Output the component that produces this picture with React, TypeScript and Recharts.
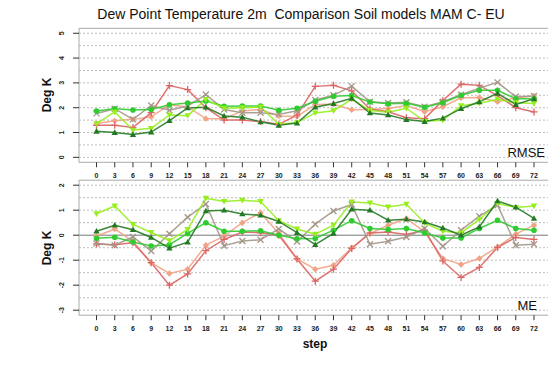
import { LineChart, Line, XAxis, YAxis, ReferenceLine } from 'recharts';

const steps = [0, 3, 6, 9, 12, 15, 18, 21, 24, 27, 30, 33, 36, 39, 42, 45, 48, 51, 54, 57, 60, 63, 66, 69, 72];

// RMSE panel
const rmseDarkGreen = [1.05, 1.0, 0.92, 1.02, 1.48, 1.99, 2.02, 1.67, 1.62, 1.43, 1.29, 1.38, 2.02, 2.17, 2.38, 1.79, 1.71, 1.52, 1.44, 1.58, 1.96, 2.24, 2.58, 2.13, 2.36];
const rmseGreen = [1.87, 1.96, 1.91, 1.93, 2.12, 2.19, 2.27, 2.06, 2.07, 2.07, 1.9, 1.98, 2.26, 2.46, 2.49, 2.23, 2.16, 2.18, 2.02, 2.2, 2.5, 2.7, 2.7, 2.36, 2.36];
const rmseLightGreen = [1.36, 1.83, 1.1, 1.17, 1.71, 1.68, 2.33, 1.98, 2.0, 2.03, 1.33, 1.4, 1.79, 1.88, 2.34, 1.89, 1.82, 1.98, 1.45, 1.49, 2.08, 2.18, 2.34, 2.2, 2.17];
const rmseGray = [1.77, 1.96, 1.53, 2.09, 1.9, 2.07, 2.53, 1.93, 1.8, 1.8, 1.73, 1.88, 2.31, 2.5, 2.87, 2.24, 2.19, 2.22, 2.04, 2.24, 2.52, 2.79, 3.02, 2.44, 2.47];
const rmseSalmon = [1.36, 1.47, 1.53, 1.63, 2.12, 2.03, 1.56, 1.55, 1.87, 1.93, 1.67, 1.65, 2.13, 2.14, 1.92, 1.93, 1.97, 2.09, 1.84, 2.04, 2.4, 2.41, 2.24, 2.4, 2.47];
const rmseRed = [1.29, 1.29, 1.2, 1.8, 2.89, 2.73, 2.0, 1.5, 1.5, 1.44, 1.33, 1.7, 2.86, 2.9, 2.68, 1.95, 1.84, 1.6, 1.56, 2.29, 2.95, 2.9, 2.49, 2.0, 1.83];

// ME panel
const meDarkGreen = [0.16, 0.4, 0.22, -0.09, -0.52, -0.28, 0.97, 1.0, 0.85, 0.8, 0.55, 0.1, -0.38, 0.07, 1.04, 1.0, 0.6, 0.64, 0.53, 0.29, 0.0, 0.33, 1.37, 1.12, 0.67];
const meGreen = [-0.12, -0.08, -0.27, -0.43, -0.38, 0.07, 0.5, 0.16, 0.16, 0.18, 0.0, -0.14, -0.13, 0.2, 0.58, 0.27, 0.23, 0.27, 0.09, -0.11, -0.11, 0.27, 0.6, 0.27, 0.2];
const meLightGreen = [0.86, 1.17, 0.43, 0.11, -0.22, 0.23, 1.48, 1.35, 1.4, 1.35, 0.58, 0.25, 0.04, 0.4, 1.33, 1.29, 1.13, 1.24, 0.49, 0.16, 0.09, 0.63, 1.27, 1.11, 1.17];
const meGray = [-0.33, -0.4, -0.07, -0.63, 0.06, 0.72, 1.25, -0.42, -0.23, -0.18, 0.25, -0.25, 0.44, 0.97, 1.23, -0.36, -0.24, -0.07, 0.27, -0.44, 0.2, 0.76, 1.2, -0.4, -0.36];
const meSalmon = [-0.04, 0.25, -0.25, -1.1, -1.53, -1.36, -0.4, -0.04, 0.5, 0.9, 0.07, -0.95, -1.36, -1.2, -0.5, 0.07, 0.4, 0.67, 0.13, -0.93, -1.17, -0.93, -0.47, 0.04, 0.4];
const meRed = [-0.35, -0.38, -0.3, -1.1, -2.0, -1.55, -0.62, -0.17, 0.13, 0.1, 0.0, -0.95, -1.84, -1.36, -0.53, 0.09, 0.13, 0.03, 0.2, -1.03, -1.69, -1.29, -0.49, -0.09, -0.17];

const rmseTicks = [0, 1, 2, 3, 4, 5];
const rmseGrid = [0, 0.5, 1, 1.5, 2, 2.5, 3, 3.5, 4, 4.5, 5];
const meTicks = [-3, -2, -1, 0, 1, 2];
const meGrid = [-3, -2.5, -2, -1.5, -1, -0.5, 0.5, 1, 1.5, 2];

const series = [
  { key: 'salmon', color: '#f2a386', shape: 'diamond' },
  { key: 'red', color: '#dc6464', shape: 'plus' },
  { key: 'gray', color: '#a49688', shape: 'cross' },
  { key: 'green', color: '#2fcc2f', shape: 'circle' },
  { key: 'lightGreen', color: '#96ee1e', shape: 'triDown' },
  { key: 'darkGreen', color: '#237a23', shape: 'triUp' },
];

const rmseData = steps.map((step, i) => ({
  step,
  darkGreen: rmseDarkGreen[i],
  green: rmseGreen[i],
  lightGreen: rmseLightGreen[i],
  gray: rmseGray[i],
  salmon: rmseSalmon[i],
  red: rmseRed[i],
}));

const meData = steps.map((step, i) => ({
  step,
  darkGreen: meDarkGreen[i],
  green: meGreen[i],
  lightGreen: meLightGreen[i],
  gray: meGray[i],
  salmon: meSalmon[i],
  red: meRed[i],
}));

const FONT = '"Liberation Sans", Arial, sans-serif';

function Marker({ cx, cy, shape, color }: any) {
  if (cx == null || cy == null) return null;
  const s = 3.2;
  switch (shape) {
    case 'triUp':
      return <polygon points={`${cx},${cy - s} ${cx - s},${cy + s * 0.75} ${cx + s},${cy + s * 0.75}`} fill={color} />;
    case 'triDown':
      return <polygon points={`${cx - s},${cy - s * 0.75} ${cx + s},${cy - s * 0.75} ${cx},${cy + s}`} fill={color} />;
    case 'circle':
      return <circle cx={cx} cy={cy} r={2.8} fill={color} />;
    case 'diamond':
      return <polygon points={`${cx},${cy - s} ${cx + s},${cy} ${cx},${cy + s} ${cx - s},${cy}`} fill={color} />;
    case 'cross':
      return (
        <g stroke={color} strokeWidth={1.3}>
          <line x1={cx - 3} y1={cy - 3} x2={cx + 3} y2={cy + 3} />
          <line x1={cx - 3} y1={cy + 3} x2={cx + 3} y2={cy - 3} />
        </g>
      );
    default:
      return (
        <g stroke={color} strokeWidth={1.3}>
          <line x1={cx - 3.5} y1={cy} x2={cx + 3.5} y2={cy} />
          <line x1={cx} y1={cy - 3.5} x2={cx} y2={cy + 3.5} />
        </g>
      );
  }
}

function XTick({ x, y, payload }: any) {
  return (
    <text x={x} y={y} dy={9} textAnchor="middle" fontSize={7} fontWeight="bold" fill="#222" fontFamily={FONT}>
      {payload.value}
    </text>
  );
}

function YTick({ x, y, payload }: any) {
  return (
    <text
      x={x - 7}
      y={y}
      textAnchor="middle"
      fontSize={7}
      fontWeight="bold"
      fill="#222"
      fontFamily={FONT}
      transform={`rotate(-90 ${x - 7} ${y})`}
    >
      {payload.value}
    </text>
  );
}

function Panel({ data, top, marginTop, marginBottom, domain, ticks, grid, zeroLine }: any) {
  return (
    <div style={{ position: 'absolute', left: 0, top }}>
      <LineChart
        width={560}
        height={190}
        data={data}
        margin={{ top: marginTop, right: 8.5, bottom: marginBottom, left: 49 }}
      >
        <XAxis
          dataKey="step"
          type="number"
          domain={[-2.88, 74.88]}
          ticks={steps}
          interval={0}
          height={20}
          tick={<XTick />}
          tickSize={5}
          tickLine={{ stroke: '#333' }}
          axisLine={{ stroke: '#aaa' }}
        />
        <YAxis
          type="number"
          domain={domain}
          ticks={ticks}
          width={30}
          tick={<YTick />}
          tickSize={6}
          tickLine={{ stroke: '#333' }}
          axisLine={{ stroke: '#aaa' }}
          allowDataOverflow
        />
        {grid.map((g: number) => (
          <ReferenceLine key={g} y={g} stroke="#bdbdbd" strokeDasharray="2 2" />
        ))}
        {zeroLine && <ReferenceLine y={0} stroke="#777" />}
        <ReferenceLine y={domain[1]} stroke="#aaa" />
        {series.map((s) => (
          <Line
            key={s.key}
            type="linear"
            dataKey={s.key}
            stroke={s.color}
            strokeWidth={1.5}
            strokeOpacity={0.9}
            isAnimationActive={false}
            dot={(p: any) => <Marker key={`${s.key}-${p.index}`} cx={p.cx} cy={p.cy} shape={s.shape} color={s.color} />}
            activeDot={false}
          />
        ))}
      </LineChart>
    </div>
  );
}

export default function App() {
  return (
    <div style={{ position: 'absolute', left: 0, top: 0, width: 548, height: 368, overflow: 'hidden', background: '#fff' }}>
      <Panel
        data={rmseData}
        top={0}
        marginTop={28.3}
        marginBottom={7.7}
        domain={[-0.2, 5.2]}
        ticks={rmseTicks}
        grid={rmseGrid}
        zeroLine={false}
      />
      <Panel
        data={meData}
        top={170}
        marginTop={10.2}
        marginBottom={24.8}
        domain={[-3.2, 2.2]}
        ticks={meTicks}
        grid={meGrid}
        zeroLine
      />
      <svg width={548} height={368} style={{ position: 'absolute', left: 0, top: 0, pointerEvents: 'none' }}>
        <text x={301} y={19} textAnchor="middle" fontSize={14} fill="#111" fontFamily={FONT} style={{ whiteSpace: 'pre' }}>
          {'Dew Point Temperature 2m  Comparison Soil models MAM C- EU'}
        </text>
        <text x={51} y={95} textAnchor="middle" fontSize={12} fontWeight="bold" fill="#111" fontFamily={FONT} transform="rotate(-90 51 95)">
          Deg K
        </text>
        <text x={51} y={248} textAnchor="middle" fontSize={12} fontWeight="bold" fill="#111" fontFamily={FONT} transform="rotate(-90 51 248)">
          Deg K
        </text>
        <text x={315} y={348} textAnchor="middle" fontSize={12} fontWeight="bold" fill="#111" fontFamily={FONT}>
          step
        </text>
        <text x={545} y={157} textAnchor="end" fontSize={13} fill="#111" fontFamily={FONT}>
          RMSE
        </text>
        <text x={537} y={310} textAnchor="end" fontSize={13} fill="#111" fontFamily={FONT}>
          ME
        </text>
      </svg>
    </div>
  );
}
